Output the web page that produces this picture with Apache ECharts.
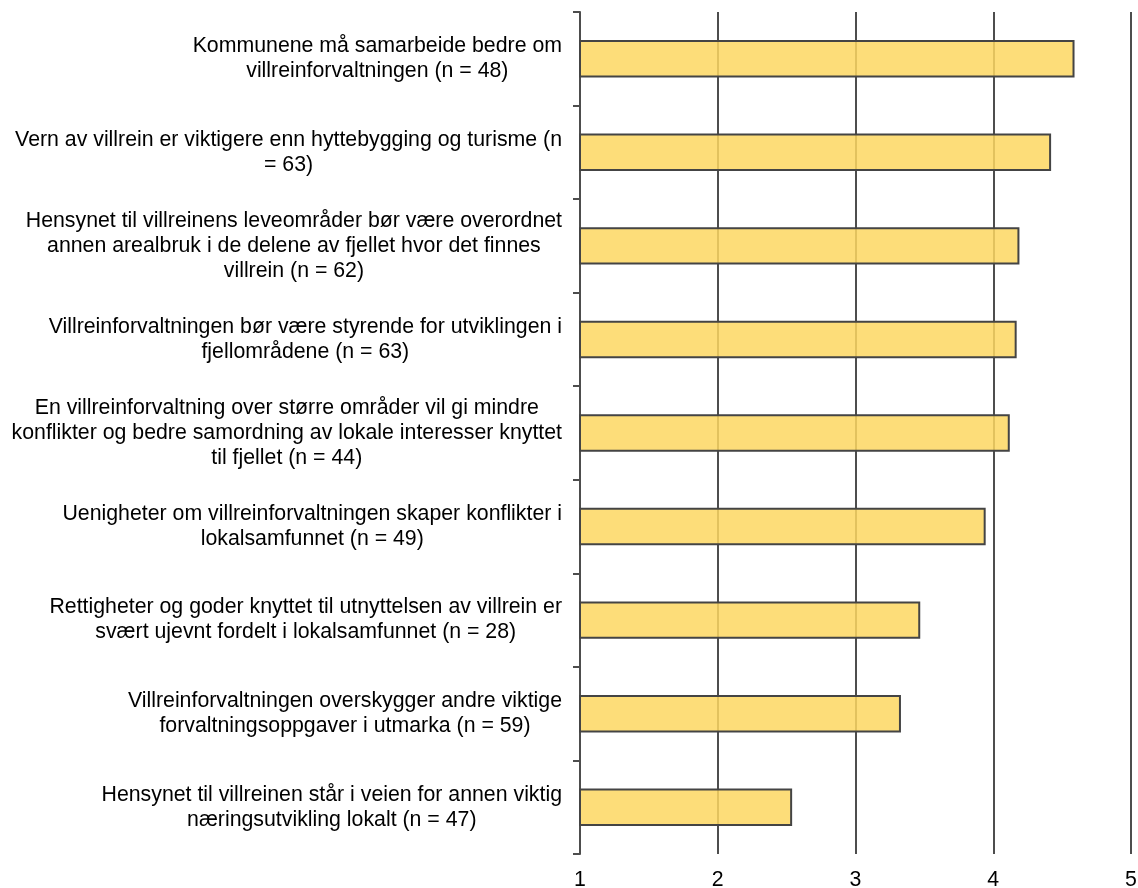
<!DOCTYPE html>
<html>
<head>
<meta charset="utf-8">
<style>
  html, body { margin: 0; padding: 0; background: #fff; }
  #chart { width: 1138px; height: 888px; }
</style>
<script src="https://cdn.jsdelivr.net/npm/echarts@6/dist/echarts.min.js"></script>
</head>
<body>
<div id="chart"></div>
<script>
// Category labels (line breaks as in the reference)
const categories = [
  "Kommunene må samarbeide bedre om\nvillreinforvaltningen (n = 48)",
  "Vern av villrein er viktigere enn hyttebygging og turisme (n\n= 63)",
  "Hensynet til villreinens leveområder bør være overordnet\nannen arealbruk i de delene av fjellet hvor det finnes\nvillrein (n = 62)",
  "Villreinforvaltningen bør være styrende for utviklingen i\nfjellområdene (n = 63)",
  "En villreinforvaltning over større områder vil gi mindre\nkonflikter og bedre samordning av lokale interesser knyttet\ntil fjellet (n = 44)",
  "Uenigheter om villreinforvaltningen skaper konflikter i\nlokalsamfunnet (n = 49)",
  "Rettigheter og goder knyttet til utnyttelsen av villrein er\nsvært ujevnt fordelt i lokalsamfunnet (n = 28)",
  "Villreinforvaltningen overskygger andre viktige\nforvaltningsoppgaver i utmarka (n = 59)",
  "Hensynet til villreinen står i veien for annen viktig\nnæringsutvikling lokalt (n = 47)"
];
// Mean scores
const values = [4.59, 4.42, 4.19, 4.17, 4.12, 3.945, 3.47, 3.33, 2.54];
// x-axis range / ticks
const xMin = 1;
const xMax = 5;
const xInterval = 1;

const FONT = '"Liberation Sans", Arial, sans-serif';
const FS = 21.3;
const chart = echarts.init(document.getElementById('chart'), null, { renderer: 'canvas' });

chart.setOption({
  backgroundColor: '#ffffff',
  animation: false,
  grid: { left: 580, right: 7, top: 12, bottom: 34, containLabel: false, outerBoundsMode: 'none' },
  xAxis: {
    type: 'value',
    min: xMin,
    max: xMax,
    interval: xInterval,
    axisLine: { show: false },
    axisTick: { show: false },
    axisLabel: {
      color: '#000',
      fontFamily: FONT,
      fontSize: FS,
      margin: 16
    },
    splitLine: { show: true, lineStyle: { color: '#4d4d4d', width: 2 } }
  },
  yAxis: {
    type: 'category',
    data: categories,
    inverse: true,
    axisLine: { show: true, lineStyle: { color: '#4d4d4d', width: 2 } },
    axisTick: { show: true, length: 7, lineStyle: { color: '#4d4d4d', width: 2 } },
    splitLine: { show: false },
    axisLabel: {
      margin: 18,
      color: '#000',
      fontFamily: FONT,
      fontSize: FS,
      lineHeight: 25,
      formatter: function (v) {
        return v.split('\n').map(function (l) { return '{c|' + l + '}'; }).join('\n');
      },
      rich: {
        c: { align: 'center', color: '#000', fontFamily: FONT, fontSize: FS, lineHeight: 25 }
      }
    }
  },
  series: [{
    type: 'bar',
    data: values,
    barWidth: '40%',
    itemStyle: {
      color: 'rgba(253,215,98,0.85)',
      borderColor: '#444',
      borderWidth: 2
    }
  }]
});
</script>
</body>
</html>
